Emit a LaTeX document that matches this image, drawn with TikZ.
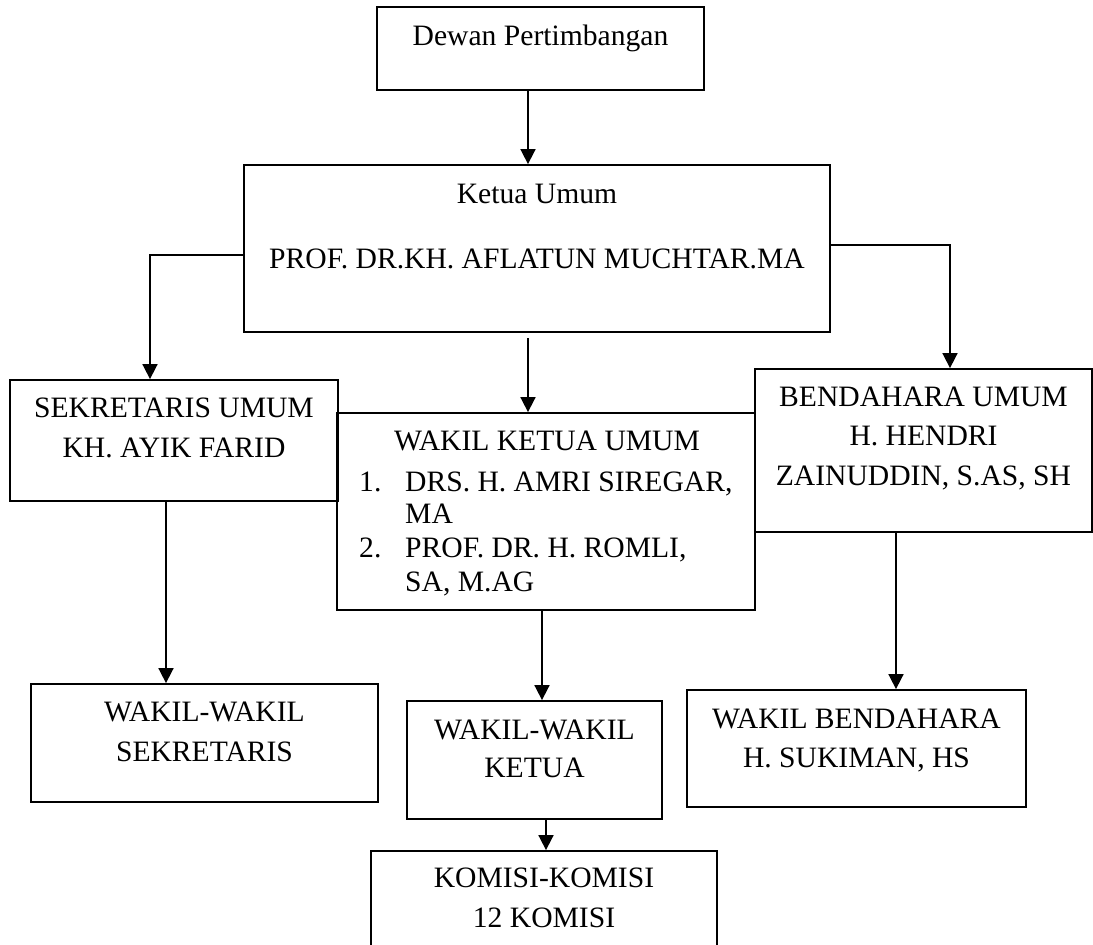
\documentclass[tikz,border=0pt]{standalone}
\usepackage{fontspec}
\setmainfont{Liberation Serif}
\usetikzlibrary{arrows.meta}
\begin{document}
\begin{tikzpicture}[x=1pt,y=-1pt,
  box/.style={draw,line width=1.8pt,inner sep=0pt,rectangle},
  txt/.style={anchor=base,inner sep=0pt,font=\fontsize{29.6}{38}\selectfont},
  txtl/.style={anchor=base west,inner sep=0pt,font=\fontsize{29.6}{38}\selectfont},
  arr/.style={line width=1.7pt,-{Triangle[length=15pt,width=15pt]}}]
\useasboundingbox (0,0) rectangle (1093,945);
\clip (0,0) rectangle (1093,945);
% boxes
\node[box,minimum width=327pt,minimum height=83pt] (dewan) at (540.5,48.5) {};
\node[box,minimum width=586pt,minimum height=167pt] (ketua) at (537,248.5) {};
\node[box,minimum width=328pt,minimum height=121pt] (sek) at (174,440.5) {};
\node[box,minimum width=418pt,minimum height=197pt] (wku) at (546,511.5) {};
\node[box,minimum width=337pt,minimum height=163pt] (bend) at (923.5,450.5) {};
\node[box,minimum width=347pt,minimum height=118pt] (wws) at (204.5,743) {};
\node[box,minimum width=255pt,minimum height=118pt] (wwk) at (534.5,760) {};
\node[box,minimum width=339pt,minimum height=117pt] (wb) at (856.5,748.5) {};
\node[box,minimum width=346pt,minimum height=120pt] (kom) at (544,911) {};
% texts
\node[txt] (t1) at (dewan.center |- 0,45) {Dewan Pertimbangan};
\node[txt] (t2) at (ketua.center |- 0,203) {Ketua Umum};
\node[txt] (t3) at (ketua.center |- 0,268) {PROF. DR.KH. AFLATUN MUCHTAR.MA};
\node[txt] (t4) at (sek.center |- 0,417) {SEKRETARIS UMUM};
\node[txt] (t5) at (sek.center |- 0,457) {KH. AYIK FARID};
\node[txt] (t6) at (547,450) {WAKIL KETUA UMUM};
\node[txtl] (t7) at (359,491) {1.};
\node[txtl] (t8) at (405,491) {DRS. H. AMRI SIREGAR,};
\node[txtl] (t9) at (405,523) {MA};
\node[txtl] (t10) at (359,557) {2.};
\node[txtl] (t11) at (405,557) {PROF. DR. H. ROMLI,};
\node[txtl] (t12) at (405,591) {SA, M.AG};
\node[txt] (t13) at (bend.center |- 0,406) {BENDAHARA UMUM};
\node[txt] (t14) at (bend.center |- 0,445) {H. HENDRI};
\node[txt] (t15) at (bend.center |- 0,485) {ZAINUDDIN, S.AS, SH};
\node[txt] (t16) at (wws.center |- 0,721) {WAKIL-WAKIL};
\node[txt] (t17) at (wws.center |- 0,761) {SEKRETARIS};
\node[txt] (t18) at (wwk.center |- 0,739) {WAKIL-WAKIL};
\node[txt] (t19) at (wwk.center |- 0,777) {KETUA};
\node[txt] (t20) at (wb.center |- 0,728) {WAKIL BENDAHARA};
\node[txt] (t21) at (wb.center |- 0,767) {H. SUKIMAN, HS};
\node[txt] (t22) at (kom.center |- 0,887) {KOMISI-KOMISI};
\node[txt] (t23) at (kom.center |- 0,927) {12 KOMISI};
% connector coordinates
\coordinate (c1) at (528,0);
\coordinate (kl) at (150,255);
\coordinate (km) at (528,338);
\coordinate (kr) at (950,245);
\coordinate (c2) at (166,0);
\coordinate (c3) at (542,0);
\coordinate (c4) at (896,0);
\coordinate (c5) at (546,0);
% connectors
\draw[arr] (dewan.south -| c1) -- (ketua.north -| c1);
\draw[arr] (ketua.west |- kl) -- (kl) -- (kl |- sek.north);
\draw[arr] (km) -- (km |- wku.north);
\draw[arr] (ketua.east |- kr) -- (kr) -- (kr |- bend.north);
\draw[arr] (sek.south -| c2) -- (wws.north -| c2);
\draw[arr] (wku.south -| c3) -- (wwk.north -| c3);
\draw[arr] (bend.south -| c4) -- (wb.north -| c4);
\draw[arr] (wwk.south -| c5) -- (kom.north -| c5);
\end{tikzpicture}
\end{document}
